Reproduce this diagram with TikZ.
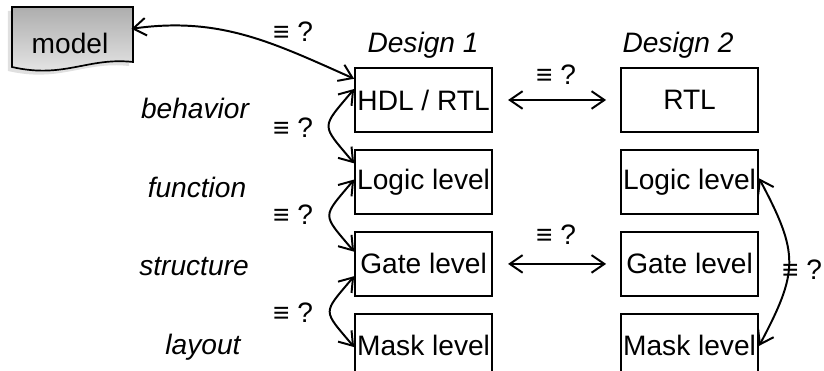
\documentclass[tikz,border=0pt]{standalone}
\usepackage{fontspec}
\setmainfont{Liberation Sans}
\usetikzlibrary{arrows.meta,positioning,calc}

\begin{document}
\begin{tikzpicture}[>={Straight Barb[length=0.32cm,width=0.44cm]},line width=1.4pt,
  font=\fontsize{20}{24}\selectfont,
  level/.style={draw,line width=1.4pt,minimum width=3.425cm,minimum height=1.6cm,inner sep=0pt},
  view/.style={font=\fontsize{20}{24}\selectfont\itshape},
  eq/.style={inner sep=1pt}]
\clip (0,0) rectangle (20.6,9.275);
% model (document shape with shadow)
\fill[black!12] (0.2,9.0) -- (3.225,9.0) -- (3.225,7.625) .. controls (2.1,7.75) and (1.5,7.2) .. (0.2,7.5) -- cycle;
\shade[top color=black!32,bottom color=black!8,draw,line width=1.2pt]
  (0.3,9.1) -- (3.325,9.1) -- (3.325,7.725) .. controls (2.2,7.85) and (1.6,7.3) .. (0.3,7.6) -- cycle;
\node[minimum width=3.025cm,minimum height=1.6cm] (model) at (1.75,8.2) {model};
% design 1
\node[level] (hdl1) at (10.59,6.775) {HDL / RTL};
\node[level,below=0.4cm of hdl1] (logic1) {Logic level};
\node[level,below=0.4cm of logic1] (gate1) {Gate level};
\node[level,below=0.4cm of gate1] (mask1) {Mask level};
% design 2
\node[level,right=3.175cm of hdl1] (rtl2) {RTL};
\node[level,below=0.4cm of rtl2] (logic2) {Logic level};
\node[level,below=0.4cm of logic2] (gate2) {Gate level};
\node[level,below=0.4cm of gate2] (mask2) {Mask level};
\node[view] (d1) at (10.575,8.15) {Design 1};
\node[view] (d2) at (16.95,8.15) {Design 2};
% views
\node[view] (beh) at (4.875,6.575) {behavior};
\node[view] (fun) at (4.925,4.6) {function};
\node[view] (str) at (4.85,2.6) {structure};
\node[view] (lay) at (5.075,0.6) {layout};
% equivalence checks
\draw[<->] (model.13) to[out=8,in=156] (hdl1.163);
\draw[<->] (hdl1.171) to[out=230,in=130,looseness=1.8] (logic1.165);
\draw[<->] (logic1.178) to[out=230,in=130,looseness=1.8] (gate1.170);
\draw[<->] (gate1.190) to[out=230,in=130,looseness=1.8] (mask1.181);
\draw[<->,shorten <=0.375cm,shorten >=0.35cm] (hdl1.east) -- (rtl2.west);
\draw[<->,shorten <=0.375cm,shorten >=0.35cm] (gate1.east) -- (gate2.west);
\draw[<->] (logic2.3) to[out=-62,in=62,looseness=1.3] (mask2.east);
\node[eq] (q1) at (7.325,8.475) {≡ ?};
\node[eq] (q2) at (7.325,6.075) {≡ ?};
\node[eq] (q3) at (7.325,3.9) {≡ ?};
\node[eq] (q4) at (7.325,1.45) {≡ ?};
\node[eq] (q5) at (13.9,7.4) {≡ ?};
\node[eq] (q6) at (13.9,3.4) {≡ ?};
\node[eq] (q7) at (20.05,2.525) {≡ ?};
\end{tikzpicture}
\end{document}
